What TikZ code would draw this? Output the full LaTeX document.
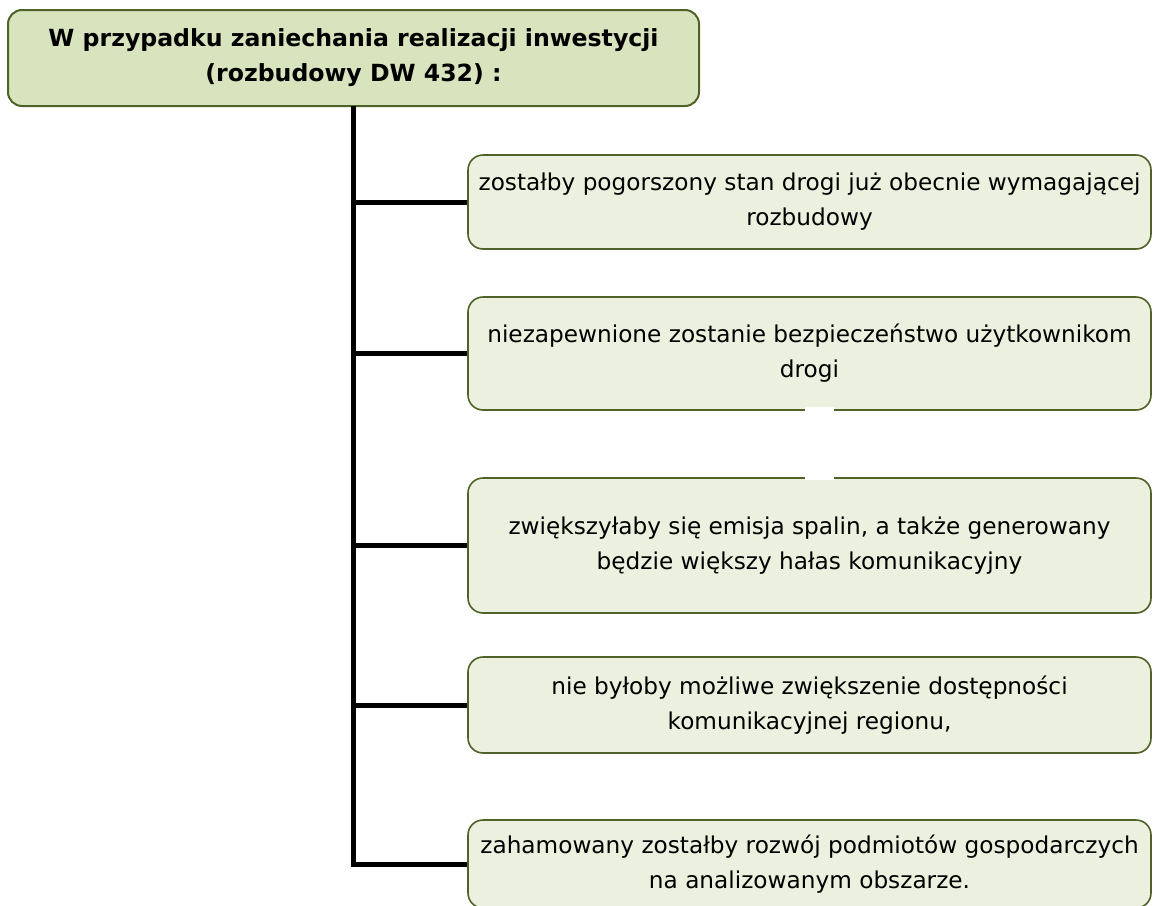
\documentclass[tikz,border=0pt]{standalone}
\usepackage{fontspec}
\setmainfont{DejaVu Sans}
\definecolor{topfill}{HTML}{D7E4BD}
\definecolor{childfill}{HTML}{EBF1DE}
\definecolor{olive}{HTML}{4F6228}
\tikzset{
  topbox/.style={draw=olive, line width=2pt, fill=topfill, rounded corners=14pt,
    minimum width=691pt, minimum height=96pt, align=center, inner sep=0pt,
    font=\fontsize{23.6pt}{35pt}\selectfont\bfseries},
  childbox/.style={draw=olive, line width=1.6pt, fill=childfill, rounded corners=15pt,
    minimum width=683pt, align=center, inner sep=0pt,
    font=\fontsize{23.2pt}{35pt}\selectfont},
  trunk/.style={line width=5pt, black, line join=miter}
}
\begin{document}
\begin{tikzpicture}[x=1pt,y=-1pt]
\useasboundingbox (0,0) rectangle (1153,905);
\node[topbox] (top) at (353.5,58) {W przypadku zaniechania realizacji inwestycji\\(rozbudowy DW 432) :};
\node[childbox, minimum height=94pt] (b1) at (809.5,202) {zostałby pogorszony stan drogi już obecnie wymagającej\\rozbudowy};
\node[childbox, minimum height=113pt] (b2) at (809.5,353.5) {niezapewnione zostanie bezpieczeństwo użytkownikom\\drogi};
\node[childbox, minimum height=135pt] (b3) at (809.5,545.5) {zwiększyłaby się emisja spalin, a także generowany\\będzie większy hałas komunikacyjny};
\node[childbox, minimum height=96pt] (b4) at (809.5,705) {nie byłoby możliwe zwiększenie dostępności\\komunikacyjnej regionu,};
\node[childbox, minimum height=88pt] (b5) at (809.5,864) {zahamowany zostałby rozwój podmiotów gospodarczych\\na analizowanym obszarze.};
\coordinate (tr) at (353,106);
\draw[trunk] (tr) |- (b5.west);
\draw[trunk] (tr |- b1.west) -- (b1.west);
\draw[trunk] (tr |- b2.west) -- (b2.west);
\draw[trunk] (tr |- b3.west) -- (b3.west);
\draw[trunk] (tr |- b4.west) -- (b4.west);
\fill[white] (805,407) rectangle (834,412);
\fill[white] (805,476) rectangle (834,480);
\end{tikzpicture}
\end{document}
